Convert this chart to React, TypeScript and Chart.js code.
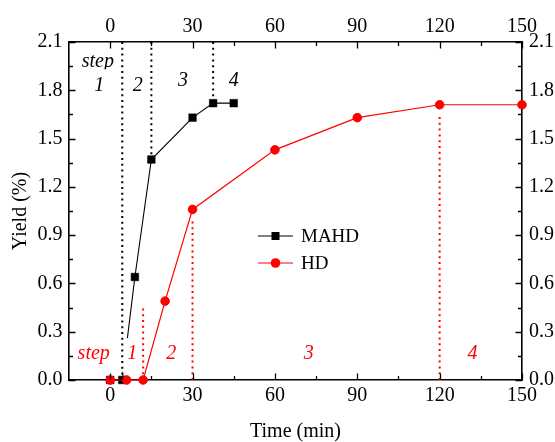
import React, { useEffect, useRef } from "react";
import { Chart, registerables } from "chart.js";

Chart.register(...registerables);

// ---- data ----
const hdTime = [0, 6, 12, 20, 30, 60, 90, 120, 150];
const hdYield = [0, 0, 0, 0.49, 1.06, 1.43, 1.63, 1.71, 1.71];
const mahdTime = [0, 4.4, 9, 15, 30, 37.5, 45];
const mahdYield = [0, 0, 0.64, 1.37, 1.63, 1.72, 1.72];

const timeTicks = [0, 30, 60, 90, 120, 150];
const timeMinorTicks = [15, 45, 75, 105, 135];
const yieldTicks = [0, 0.3, 0.6, 0.9, 1.2, 1.5, 1.8, 2.1];
const yieldMinorTicks = [0.15, 0.45, 0.75, 1.05, 1.35, 1.65, 1.95];

// step boundaries (time, yield from, yield to)
const mahdStepTimes = [4.4, 15, 37.5];
const mahdStepFrom = [0, 1.4, 1.76];
const mahdStepTo = [2.1, 2.1, 2.1];
const hdStepTimes = [12, 30, 120];
const hdStepFrom = [0, 0, 0];
const hdStepTo = [0.45, 1.0, 1.64];

// step labels (text, time, yield)
const mahdLabelText = ["1", "2", "3", "4"];
const mahdLabelTime = [-4, 10, 26.5, 45];
const mahdLabelYield = [1.83, 1.83, 1.86, 1.86];
const mahdStepWord = { text: "step", t: -4.5, v: 1.98, clipBelow: 1.929 };

const hdLabelText = ["1", "2", "3", "4"];
const hdLabelTime = [8, 22.2, 72.3, 132];
const hdLabelYield = [0.165, 0.165, 0.165, 0.165];
const hdStepWord = { text: "step", t: -6, v: 0.16 };

// white boxes behind the "1" labels (t0, t1, v0, v1)
const maskT0 = [-11, 4.6];
const maskT1 = [2, 11.2];
const maskV0 = [1.8, 0.04];
const maskV1 = [1.929, 0.26];

const legendLabels = ["MAHD", "HD"];
const legendColors = ["#000000", "#ff0000"];
const legendStyles = ["rect", "circle"];

const FONT = "'Liberation Serif', 'Times New Roman', Times, serif";
const RED = "#ff0000";
const BLACK = "#000000";

const decor = {
  id: "decor",
  afterDatasetsDraw(chart: any) {
    const ctx: CanvasRenderingContext2D = chart.ctx;
    const xs = chart.scales.x;
    const ys = chart.scales.y;
    const X = (t: number) => xs.getPixelForValue(t);
    const Y = (v: number) => ys.getPixelForValue(v);
    const area = chart.chartArea;

    ctx.save();
    ctx.textAlign = "center";
    ctx.textBaseline = "middle";
    ctx.font = `italic 20px ${FONT}`;

    // "step" words
    ctx.fillStyle = BLACK;
    ctx.save();
    ctx.beginPath();
    ctx.rect(0, 0, area.left + 80, Y(mahdStepWord.clipBelow));
    ctx.clip();
    ctx.fillText(mahdStepWord.text, X(mahdStepWord.t), Y(mahdStepWord.v));
    ctx.restore();
    ctx.fillStyle = RED;
    ctx.fillText(hdStepWord.text, X(hdStepWord.t), Y(hdStepWord.v));

    // masks
    ctx.fillStyle = "#ffffff";
    for (let i = 0; i < maskT0.length; i++) {
      const x0 = X(maskT0[i]);
      const x1 = X(maskT1[i]);
      const y0 = Y(maskV0[i]);
      const y1 = Y(maskV1[i]);
      ctx.fillRect(x0, y1, x1 - x0, y0 - y1);
    }

    // dotted step lines
    ctx.lineWidth = 2;
    ctx.setLineDash([2, 3.8]);
    const drawV = (t: number, a: number, b: number, color: string) => {
      ctx.strokeStyle = color;
      ctx.beginPath();
      ctx.moveTo(X(t), Y(a));
      ctx.lineTo(X(t), Y(b));
      ctx.stroke();
    };
    mahdStepTimes.forEach((t, i) => drawV(t, mahdStepTo[i], mahdStepFrom[i], BLACK));
    hdStepTimes.forEach((t, i) => drawV(t, hdStepFrom[i], hdStepTo[i], RED));
    ctx.setLineDash([]);

    // digit labels
    ctx.fillStyle = BLACK;
    mahdLabelText.forEach((s, i) => ctx.fillText(s, X(mahdLabelTime[i]), Y(mahdLabelYield[i])));
    ctx.fillStyle = RED;
    hdLabelText.forEach((s, i) => ctx.fillText(s, X(hdLabelTime[i]), Y(hdLabelYield[i])));

    // inward ticks
    ctx.strokeStyle = BLACK;
    ctx.lineWidth = 1.3;
    const major = 6.5;
    const minor = 4;
    ctx.beginPath();
    const xt = (v: number, len: number) => {
      const px = Math.round(X(v)) + 0.5;
      ctx.moveTo(px, area.bottom);
      ctx.lineTo(px, area.bottom - len);
      ctx.moveTo(px, area.top);
      ctx.lineTo(px, area.top + len);
    };
    const yt = (v: number, len: number) => {
      const py = Math.round(Y(v)) + 0.5;
      ctx.moveTo(area.left, py);
      ctx.lineTo(area.left + len, py);
      ctx.moveTo(area.right, py);
      ctx.lineTo(area.right - len, py);
    };
    timeTicks.forEach((v) => xt(v, major));
    timeMinorTicks.forEach((v) => xt(v, minor));
    yieldTicks.forEach((v) => yt(v, major));
    yieldMinorTicks.forEach((v) => yt(v, minor));
    ctx.stroke();

    // legend
    const lx = area.left + 189;
    const rows = [area.top + 194, area.top + 221];
    ctx.font = `19px ${FONT}`;
    ctx.textAlign = "left";
    legendLabels.forEach((label, i) => {
      const y = rows[i];
      ctx.strokeStyle = legendColors[i];
      ctx.fillStyle = legendColors[i];
      ctx.lineWidth = 1.2;
      ctx.beginPath();
      ctx.moveTo(lx, y);
      ctx.lineTo(lx + 35, y);
      ctx.stroke();
      const cx = lx + 17.5;
      if (legendStyles[i] === "rect") {
        ctx.fillRect(cx - 4, y - 4, 8, 8);
      } else {
        ctx.beginPath();
        ctx.arc(cx, y, 4.8, 0, Math.PI * 2);
        ctx.fill();
      }
      ctx.fillStyle = BLACK;
      ctx.fillText(label, lx + 43, y + 1);
    });

    ctx.restore();
  },
};

export default function App() {
  const ref = useRef<HTMLCanvasElement | null>(null);

  useEffect(() => {
    if (!ref.current) return;
    Chart.defaults.font.family = FONT;
    Chart.defaults.color = BLACK;

    const border = { display: true, color: BLACK, width: 1.6 };
    const grid = { display: false, drawTicks: false, tickLength: 0 };
    const tickFont = { size: 20, family: FONT };

    const chart = new Chart(ref.current, {
      type: "line",
      data: {
        datasets: [
          {
            label: "HD",
            data: hdTime.map((t, i) => ({ x: t, y: hdYield[i] })),
            xAxisID: "x",
            yAxisID: "y",
            borderColor: RED,
            backgroundColor: RED,
            borderWidth: 1.2,
            pointStyle: "circle",
            pointRadius: 4.3,
            pointBorderWidth: 1,
            pointBorderColor: RED,
            pointBackgroundColor: RED,
            tension: 0,
            clip: false,
          } as any,
          {
            label: "MAHD",
            data: mahdTime.map((t, i) => ({ x: t, y: mahdYield[i] })),
            xAxisID: "x2",
            yAxisID: "y",
            borderColor: BLACK,
            backgroundColor: BLACK,
            borderWidth: 1.1,
            pointStyle: "rect",
            pointRadius: 5.4,
            pointBorderWidth: 0.5,
            pointBorderColor: BLACK,
            pointBackgroundColor: BLACK,
            tension: 0,
            clip: false,
          } as any,
        ],
      },
      options: {
        animation: false,
        responsive: false,
        devicePixelRatio: 1,
        events: [],
        layout: { padding: 0 },
        plugins: { legend: { display: false }, tooltip: { enabled: false } },
        scales: {
          x: {
            type: "linear",
            position: "bottom",
            min: -15,
            max: 150,
            afterBuildTicks: (s: any) => {
              s.ticks = timeTicks.map((v) => ({ value: v }));
            },
            afterFit: (s: any) => {
              s.height = 62;
            },
            grid,
            border,
            ticks: { padding: 4, color: BLACK, font: tickFont, maxRotation: 0, autoSkip: false },
            title: {
              display: true,
              text: "Time (min)",
              color: BLACK,
              font: { size: 20, family: FONT, lineHeight: 1 },
              padding: 0,
            },
          },
          x2: {
            type: "linear",
            position: "top",
            min: -15,
            max: 150,
            afterBuildTicks: (s: any) => {
              s.ticks = timeTicks.map((v) => ({ value: v }));
            },
            afterFit: (s: any) => {
              s.height = 42;
            },
            grid,
            border,
            ticks: { padding: 3.5, color: BLACK, font: tickFont, maxRotation: 0, autoSkip: false },
          },
          y: {
            type: "linear",
            position: "left",
            min: 0,
            max: 2.1,
            afterBuildTicks: (s: any) => {
              s.ticks = yieldTicks.map((v) => ({ value: v }));
            },
            afterFit: (s: any) => {
              s.width = 69;
            },
            grid,
            border,
            ticks: {
              padding: 6.5,
              color: BLACK,
              font: tickFont,
              autoSkip: false,
              callback: (v: any) => Number(v).toFixed(1),
            },
            title: {
              display: true,
              text: "Yield (%)",
              color: BLACK,
              font: { size: 20, family: FONT, lineHeight: 1 },
              padding: { top: 10.5, bottom: 0 },
            },
          },
          y2: {
            type: "linear",
            position: "right",
            min: 0,
            max: 2.1,
            afterBuildTicks: (s: any) => {
              s.ticks = yieldTicks.map((v) => ({ value: v }));
            },
            afterFit: (s: any) => {
              s.width = 33;
            },
            grid,
            border,
            ticks: {
              padding: 7,
              color: BLACK,
              font: tickFont,
              autoSkip: false,
              callback: (v: any) => Number(v).toFixed(1),
            },
          },
        },
      } as any,
      plugins: [decor],
    });

    return () => chart.destroy();
  }, []);

  return (
    <canvas
      ref={ref}
      width={555}
      height={442}
      style={{ position: "absolute", left: 0, top: 0, width: 555, height: 442, display: "block" }}
    />
  );
}
